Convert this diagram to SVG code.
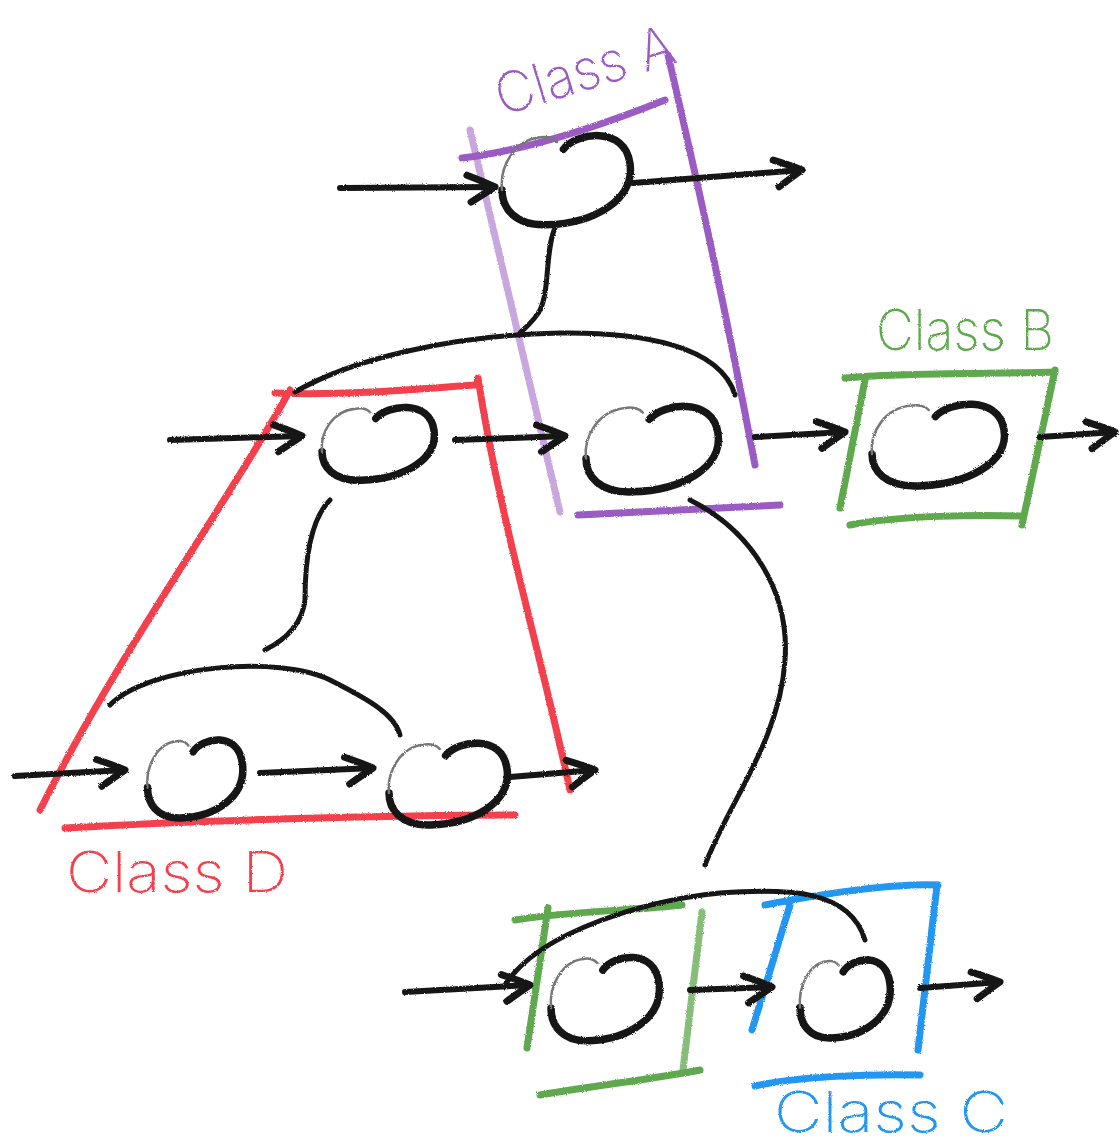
<svg xmlns="http://www.w3.org/2000/svg" xmlns:xlink="http://www.w3.org/1999/xlink" width="1120" height="1144" viewBox="0 0 1120 1144">
<style>
.ink{fill:none;stroke:#151515;stroke-linecap:round;stroke-linejoin:round}
.arr{fill:none;stroke:#151515;stroke-width:6;stroke-linecap:round;stroke-linejoin:round}
.box{fill:none;stroke-linecap:round;stroke-linejoin:round;stroke-width:7}
.purple{stroke:#9a5cc2}
.red{stroke:#f2404e}
.green{stroke:#5ea84e}
.blue{stroke:#2196f0}
.lbl{font-family:Inter,"DejaVu Sans",sans-serif;font-weight:200;font-size:56px}
</style>
<defs>
<filter id="rough" x="-5%" y="-5%" width="110%" height="110%">
<feTurbulence type="fractalNoise" baseFrequency="0.9" numOctaves="2" seed="3" result="n"/>
<feDisplacementMap in="SourceGraphic" in2="n" scale="2.5"/>
</filter>
<marker id="head" markerUnits="userSpaceOnUse" markerWidth="44" markerHeight="44" viewBox="-36 -22 44 44" refX="0" refY="0" orient="auto">
<path d="M -28 -12 Q -10 -5 0 0 Q -10 6 -24 15" fill="none" stroke="#151515" stroke-width="7" stroke-linecap="round" stroke-linejoin="round"/>
</marker>
<g id="node">
<path d="M -2 -24 C 8 -38, 46 -44, 50 -12 C 54 18, 22 38, -15 39 C -40 40, -50 25, -50 10" class="ink" stroke-width="7.5" vector-effect="non-scaling-stroke"/>
<path d="M -50 10 C -52 -10, -40 -32, -20 -34 C -14 -35, -9 -33, -7 -30" fill="none" stroke="#777" stroke-width="2.5" stroke-linecap="round" vector-effect="non-scaling-stroke"/>
</g>
<linearGradient id="fadeL1" gradientUnits="userSpaceOnUse" x1="295" y1="0" x2="470" y2="0"><stop offset="0" stop-color="#151515" stop-opacity="0.2"/><stop offset="1" stop-color="#151515"/></linearGradient>
<linearGradient id="fadeL2" gradientUnits="userSpaceOnUse" x1="110" y1="0" x2="260" y2="0"><stop offset="0" stop-color="#151515" stop-opacity="0.25"/><stop offset="1" stop-color="#151515"/></linearGradient>
<linearGradient id="fadeL3" gradientUnits="userSpaceOnUse" x1="505" y1="0" x2="680" y2="0"><stop offset="0" stop-color="#151515" stop-opacity="0.2"/><stop offset="1" stop-color="#151515"/></linearGradient>
<linearGradient id="fadeV1" gradientUnits="userSpaceOnUse" x1="0" y1="500" x2="0" y2="600"><stop offset="0" stop-color="#151515" stop-opacity="0.35"/><stop offset="1" stop-color="#151515"/></linearGradient>
<linearGradient id="fadeR" gradientUnits="userSpaceOnUse" x1="270" y1="0" x2="420" y2="0"><stop offset="0" stop-color="#f2404e" stop-opacity="0.35"/><stop offset="1" stop-color="#f2404e"/></linearGradient>
</defs>
<rect width="1120" height="1144" fill="#ffffff"/>
<g filter="url(#rough)">
<g id="classA">
<path class="box purple" d="M 470 130 L 560 512" stroke-width="5" stroke-opacity="0.55"/>
<path class="box purple" d="M 462 158 C 530 150, 610 122, 665 100" stroke-width="5"/>
<path class="box purple" d="M 668 55 C 690 150, 720 280, 755 465"/>
<path class="box purple" d="M 578 515 L 780 505"/>
<text class="lbl" fill="#9a5cc2" x="502" y="116" transform="rotate(-17 502 116)" textLength="185" lengthAdjust="spacingAndGlyphs">Class A</text>
</g>
<g id="classD">
<path class="box red" d="M 275 393 C 350 396, 430 388, 475 385" stroke="url(#fadeR)" stroke-width="5"/>
<path class="box red" d="M 290 390 C 230 500, 120 650, 40 810" stroke-width="5"/>
<path class="box red" d="M 478 378 C 500 520, 540 650, 570 790" stroke-width="5"/>
<path class="box red" d="M 65 828 C 200 820, 400 815, 515 815" stroke-width="5"/>
<text class="lbl" fill="#f2404e" x="66" y="892" textLength="222" lengthAdjust="spacingAndGlyphs">Class D</text>
</g>
<g id="classB">
<path class="box green" d="M 845 378 C 900 372, 1000 374, 1055 372"/>
<path class="box green" d="M 865 380 L 840 508"/>
<path class="box green" d="M 1055 370 L 1022 525"/>
<path class="box green" d="M 850 525 C 900 515, 980 515, 1020 516"/>
<text class="lbl" fill="#5ea84e" x="876" y="350" textLength="178" lengthAdjust="spacingAndGlyphs">Class B</text>
</g>
<g id="classB2">
<path class="box green" d="M 515 920 C 560 912, 640 910, 682 905"/>
<path class="box green" d="M 548 908 L 527 1048"/>
<path class="box green" d="M 702 912 L 683 1070" stroke-width="5" stroke-opacity="0.75"/>
<path class="box green" d="M 540 1095 C 600 1085, 660 1078, 700 1070"/>
</g>
<g id="classC">
<path class="box blue" d="M 765 905 C 830 892, 900 883, 938 885"/>
<path class="box blue" d="M 790 905 L 752 1030"/>
<path class="box blue" d="M 937 885 L 918 1050"/>
<path class="box blue" d="M 755 1086 C 800 1076, 870 1074, 920 1075"/>
<text class="lbl" fill="#2196f0" x="774" y="1132" font-size="52" textLength="234" lengthAdjust="spacingAndGlyphs">Class C</text>
</g>
<g id="connectors">
<path class="ink" stroke-width="5" d="M 555 228 C 545 250, 550 290, 540 310 C 535 320, 525 328, 520 333"/>
<path class="ink" stroke-width="5" stroke="url(#fadeL1)" d="M 295 392 C 350 360, 450 335, 560 333 C 640 332, 720 345, 735 395"/>
<path class="ink" stroke-width="5" stroke="url(#fadeV1)" d="M 330 500 C 310 520, 305 560, 305 600 C 302 625, 285 640, 265 650"/>
<path class="ink" stroke-width="5" stroke="url(#fadeL2)" d="M 110 705 C 150 665, 280 655, 330 680 C 370 700, 395 715, 400 735"/>
<path class="ink" stroke-width="5" d="M 690 500 C 750 530, 790 590, 785 660 C 780 740, 730 800, 705 865"/>
<path class="ink" stroke-width="5" stroke="url(#fadeL3)" d="M 505 985 C 540 930, 650 900, 720 893 C 790 888, 850 890, 865 940"/>
<path class="arr" marker-end="url(#head)" d="M 340 188 L 495 187"/>
<path class="arr" marker-end="url(#head)" d="M 633 183 L 802 170"/>
<path class="arr" marker-end="url(#head)" d="M 170 440 L 302 436"/>
<path class="arr" marker-end="url(#head)" d="M 455 440 L 565 436"/>
<path class="arr" marker-end="url(#head)" d="M 755 437 L 845 432"/>
<path class="arr" marker-end="url(#head)" d="M 1040 437 L 1115 432"/>
<path class="arr" marker-end="url(#head)" d="M 15 776 L 125 770"/>
<path class="arr" marker-end="url(#head)" d="M 260 773 L 373 768"/>
<path class="arr" marker-end="url(#head)" d="M 510 777 L 595 770"/>
<path class="arr" marker-end="url(#head)" d="M 405 992 L 530 985"/>
<path class="arr" marker-end="url(#head)" d="M 690 990 L 772 987"/>
<path class="arr" marker-end="url(#head)" d="M 920 988 L 1000 982"/>
</g>
<g id="nodeA1"><use href="#node" transform="translate(566 178) scale(1.28 1.2)"/></g>
<g id="nodeD1"><use href="#node" transform="translate(378 442) scale(1.12 0.98)"/></g>
<g id="nodeA2"><use href="#node" transform="translate(652 447) scale(1.32 1.15)"/></g>
<g id="nodeB"><use href="#node" transform="translate(938 443) scale(1.32 1.1)"/></g>
<g id="nodeD2"><use href="#node" transform="translate(195 777) scale(0.95 1.05)"/></g>
<g id="nodeD3"><use href="#node" transform="translate(448 782) scale(1.18 1.1)"/></g>
<g id="nodeC1"><use href="#node" transform="translate(605 997) scale(1.08 1.12)"/></g>
<g id="nodeC2"><use href="#node" transform="translate(845 997) scale(0.9 1.05)"/></g>
</g>
</svg>
